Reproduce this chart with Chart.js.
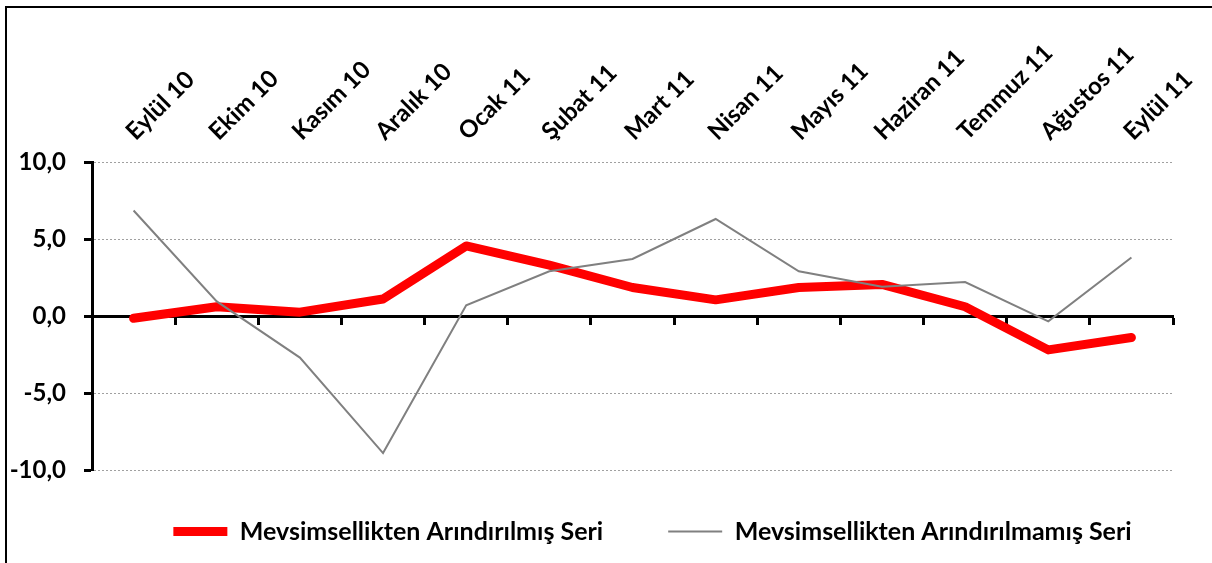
<!DOCTYPE html>
<html>
<head>
<meta charset="utf-8">
<script src="https://cdn.jsdelivr.net/npm/chart.js@4"></script>
<style>
  body { margin: 0; background: #fff; }
  #wrap { position: relative; width: 1212px; height: 563px; }
  #frame { position: absolute; left: 5px; top: 6px; right: 0; bottom: 0;
    border-top: 2px solid #000; border-left: 2px solid #000; pointer-events: none; }
</style>
</head>
<body>
<div id="wrap">
  <canvas id="canvas" width="1212" height="563"></canvas>
  <div id="frame"></div>
</div>
<script>
'use strict';

let months = ['Eylül 10', 'Ekim 10', 'Kasım 10', 'Aralık 10', 'Ocak 11', 'Şubat 11', 'Mart 11',
  'Nisan 11', 'Mayıs 11', 'Haziran 11', 'Temmuz 11', 'Ağustos 11', 'Eylül 11'];
let adjusted = [-0.15, 0.6, 0.25, 1.1, 4.55, 3.3, 1.85, 1.05, 1.85, 2.05, 0.6, -2.2, -1.4];
let unadjusted = [6.85, 0.95, -2.7, -8.9, 0.7, 2.9, 3.7, 6.3, 2.9, 1.9, 2.2, -0.35, 3.8];
let yTicks = [-10, -5, 0, 5, 10];

let fontFamily = 'Lato, "Open Sans", sans-serif';
let canvas = document.getElementById('canvas');

// nudge the legend row to sit where the original has it
let legendShift = {
  id: 'legendShift',
  afterLayout(chart) {
    chart.legend.left += 66;
    chart.legend.right += 66;
    chart.legend.top -= 16;
  }
};

new Chart(canvas, {
  type: 'line',
  data: {
    labels: months,
    datasets: [{
      label: 'Mevsimsellikten Arındırılmış Seri',
      data: adjusted,
      borderColor: '#ff0000',
      backgroundColor: '#ff0000',
      borderWidth: 9,
      borderCapStyle: 'round',
      borderJoinStyle: 'round',
      pointRadius: 0,
      tension: 0,
      order: 1
    }, {
      label: 'Mevsimsellikten Arındırılmamış Seri',
      data: unadjusted,
      borderColor: '#808080',
      backgroundColor: '#808080',
      borderWidth: 2,
      pointRadius: 0,
      tension: 0,
      order: 0
    }]
  },
  plugins: [legendShift],
  options: {
    responsive: false,
    animation: false,
    layout: { padding: { left: 0, right: 39, top: 0, bottom: 0 } },
    plugins: {
      tooltip: { enabled: false },
      legend: {
        position: 'bottom',
        maxHeight: 93,
        labels: {
          usePointStyle: true,
          pointStyle: 'line',
          pointStyleWidth: 54,
          padding: 65,
          color: '#000',
          font: { family: fontFamily, size: 25, weight: 'bold' },
          sort: (a, b) => a.datasetIndex - b.datasetIndex
        }
      }
    },
    scales: {
      x: {
        position: 'top',
        offset: true,
        grid: { display: false },
        border: { display: false },
        ticks: {
          autoSkip: false,
          minRotation: 45,
          maxRotation: 45,
          padding: 8,
          labelOffset: 17,
          color: '#000',
          font: { family: fontFamily, size: 24, weight: 'bold' }
        },
        afterFit: (scale) => {
          scale.height = 162;
          scale.paddingLeft = 0;
          scale.paddingRight = 0;
        }
      },
      x2: {
        position: { y: 0 },
        offset: true,
        grid: {
          offset: true,
          drawOnChartArea: false,
          drawTicks: true,
          tickLength: 7,
          tickWidth: 3,
          tickColor: '#000'
        },
        border: { display: true, color: '#000', width: 3 },
        ticks: { display: false }
      },
      y: {
        min: -10,
        max: 10,
        afterBuildTicks: (scale) => {
          scale.ticks = yTicks.map(v => ({ value: v }));
        },
        grid: {
          color: '#a0a0a0',
          lineWidth: 1,
          tickLength: 8,
          tickWidth: 3,
          tickColor: '#000'
        },
        border: { display: true, color: '#000', width: 3, dash: [2, 2] },
        ticks: {
          padding: 18,
          color: '#000',
          font: { family: fontFamily, size: 24, weight: 'bold' },
          callback: (v) => v.toFixed(1).replace('.', ',')
        },
        afterFit: (scale) => {
          scale.width = 92;
        }
      }
    }
  }
});
</script>
</body>
</html>
